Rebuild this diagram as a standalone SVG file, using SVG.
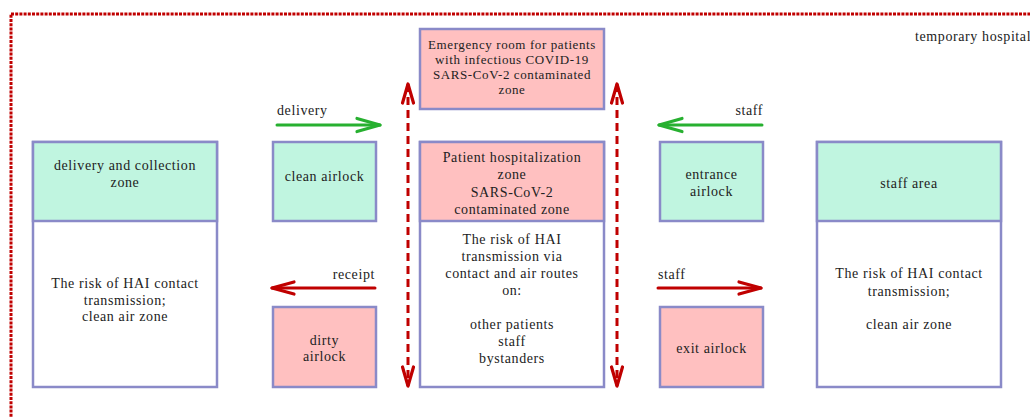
<svg xmlns="http://www.w3.org/2000/svg" width="1030" height="417" viewBox="0 0 1030 417">
<defs>
<style>
text{font-family:"Liberation Serif","Times New Roman",serif;font-size:14px;fill:#222;letter-spacing:0.6px}
.m{text-anchor:middle}
.e{text-anchor:end}
.s13{font-size:13px}
.box{stroke:#8a8ac8;stroke-width:2.5}
.mint{fill:#c0f5e0}
.pink{fill:#ffc0c0}
.white{fill:#fff}
.green{stroke:#27b030;stroke-width:3;fill:none;stroke-linecap:round}
.red{stroke:#c00000;stroke-width:3;fill:none;stroke-linecap:round}
.dash{stroke:#c00000;stroke-width:3;fill:none;stroke-dasharray:8 5}
</style>
<marker id="ag" markerUnits="userSpaceOnUse" markerWidth="30" markerHeight="20" viewBox="-25 -10 30 20" refX="0" refY="0" orient="auto" overflow="visible">
<path d="M-23,-6.5 L0,0 L-23,6.5" fill="none" stroke="#27b030" stroke-width="3.2" stroke-linecap="round" stroke-linejoin="round"/>
</marker>
<marker id="ar" markerUnits="userSpaceOnUse" markerWidth="30" markerHeight="20" viewBox="-25 -10 30 20" refX="0" refY="0" orient="auto" overflow="visible">
<path d="M-22,-6 L0,0 L-22,6" fill="none" stroke="#c00000" stroke-width="3.2" stroke-linecap="round" stroke-linejoin="round"/>
</marker>
<marker id="ars" markerUnits="userSpaceOnUse" markerWidth="30" markerHeight="20" viewBox="-25 -10 30 20" refX="0" refY="0" orient="auto-start-reverse" overflow="visible">
<path d="M-19,-5.5 L0,0 L-19,5.5" fill="none" stroke="#c00000" stroke-width="3.2" stroke-linecap="round" stroke-linejoin="round"/>
</marker>
</defs>
<g id="hospital">
<rect x="11" y="14" width="1100" height="500" fill="none" stroke="#c00000" stroke-width="3" stroke-dasharray="3 1.2"/>
<text x="915" y="41">temporary hospital</text>
</g>
<g id="emergency">
<rect class="box pink" x="420" y="29" width="184" height="80"/>
<text class="m s13" x="512" y="48.5">Emergency room for patients</text>
<text class="m s13" x="512" y="63.5">with infectious COVID-19</text>
<text class="m s13" x="512" y="78.5">SARS-CoV-2 contaminated</text>
<text class="m s13" x="512" y="93.5">zone</text>
</g>
<g id="delivery-zone">
<rect class="box white" x="33" y="142" width="184" height="245"/>
<rect class="box mint" x="33" y="142" width="184" height="79"/>
<text class="m" x="125" y="170">delivery and collection</text>
<text class="m" x="125" y="187">zone</text>
<text class="m" x="125" y="288">The risk of HAI contact</text>
<text class="m" x="125" y="305">transmission;</text>
<text class="m" x="125" y="321">clean air zone</text>
</g>
<g id="clean-airlock">
<rect class="box mint" x="273" y="142" width="103" height="79"/>
<text class="m" x="324.5" y="181">clean airlock</text>
</g>
<g id="dirty-airlock">
<rect class="box pink" x="273" y="307" width="103" height="80"/>
<text class="m" x="324.5" y="345">dirty</text>
<text class="m" x="324.5" y="361">airlock</text>
</g>
<g id="patient-zone">
<rect class="box white" x="420" y="142" width="184" height="245"/>
<rect class="box pink" x="420" y="142" width="184" height="79"/>
<text class="m" x="512" y="162">Patient hospitalization</text>
<text class="m" x="512" y="179">zone</text>
<text class="m" x="512" y="197">SARS-CoV-2</text>
<text class="m" x="512" y="214">contaminated zone</text>
<text class="m" x="512" y="244">The risk of HAI</text>
<text class="m" x="512" y="261">transmission via</text>
<text class="m" x="512" y="278">contact and air routes</text>
<text class="m" x="512" y="295">on:</text>
<text class="m" x="512" y="329">other patients</text>
<text class="m" x="512" y="346">staff</text>
<text class="m" x="512" y="363">bystanders</text>
</g>
<g id="entrance-airlock">
<rect class="box mint" x="660" y="142" width="103" height="79"/>
<text class="m" x="711.5" y="179">entrance</text>
<text class="m" x="711.5" y="196">airlock</text>
</g>
<g id="exit-airlock">
<rect class="box pink" x="660" y="307" width="103" height="80"/>
<text class="m" x="711.5" y="353">exit airlock</text>
</g>
<g id="staff-area">
<rect class="box white" x="817" y="142" width="184" height="245"/>
<rect class="box mint" x="817" y="142" width="184" height="79"/>
<text class="m" x="909" y="188">staff area</text>
<text class="m" x="909" y="278">The risk of HAI contact</text>
<text class="m" x="909" y="296">transmission;</text>
<text class="m" x="909" y="329">clean air zone</text>
</g>
<g id="connectors">
<path class="green" d="M277,125 L380,125" marker-end="url(#ag)"/>
<text x="277" y="115">delivery</text>
<path class="green" d="M762,125 L659,125" marker-end="url(#ag)"/>
<text class="e" x="763" y="115">staff</text>
<path class="red" d="M375,288 L272,288" marker-end="url(#ar)"/>
<text class="e" x="375" y="279">receipt</text>
<path class="red" d="M658,288 L761,288" marker-end="url(#ar)"/>
<text x="658" y="279">staff</text>
<path class="dash" d="M408,84 L408,386" marker-start="url(#ars)" marker-end="url(#ars)"/>
<path class="dash" d="M617,84 L617,386" marker-start="url(#ars)" marker-end="url(#ars)"/>
</g>
</svg>
